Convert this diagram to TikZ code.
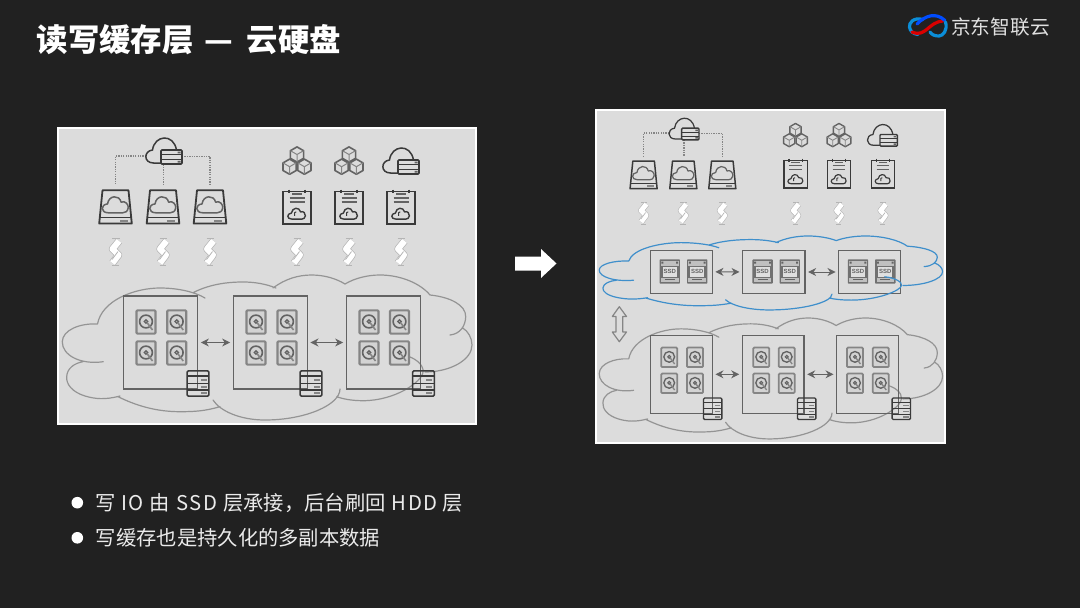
\documentclass[tikz,border=0pt]{standalone}
\usepackage{fontspec}
\usetikzlibrary{arrows.meta,calc}
\newfontfamily\cjk{Noto Sans CJK SC}
\newfontfamily\cjkwide[LetterSpace=8]{Noto Sans CJK SC}
\newfontfamily\ssdf{Liberation Sans}
\definecolor{bgc}{HTML}{212121}
\definecolor{panel}{HTML}{DCDCDC}
\definecolor{ink}{HTML}{3A3A3A}
\definecolor{mid}{HTML}{636363}
\definecolor{soft}{HTML}{858585}
\definecolor{cloudg}{HTML}{949494}
\definecolor{cloudb}{HTML}{3F8FCB}
\tikzset{
  panelbox/.style={draw=white,line width=2pt,fill=panel},
  hostbox/.style={draw=mid,line width=1.35pt,inner sep=0pt},
  link/.style={draw=mid,line width=1pt,{Stealth[length=8pt,width=8pt]}-{Stealth[length=8pt,width=8pt]},shorten <=2.5pt,shorten >=2.5pt},
  dots/.style={draw=soft,line width=1.3pt,dash pattern=on 1.3pt off 1.1pt},
  bigcloud/.style={line width=1.2pt,line cap=round}
}
\newcommand\cloudglyph[1]{\draw[#1,line join=round] (-6.5,7) .. controls (-13,7) and (-13,0) .. (-7,-0.5) .. controls (-6,-8) and (3,-8.5) .. (4.5,-2) .. controls (8,-3.5) and (11,0) .. (10.5,3) .. controls (10,6) and (8,7) .. (6,7) -- cycle;}
\newcommand\iconDisk[3]{\begin{scope}[shift={(#1,#2)},scale=#3]
  \draw[ink,line width=#3*1.8pt,line join=round] (-13,-16.7) -- (13,-16.7) -- (16.3,16.5) -- (-16.3,16.5) -- cycle;
  \draw[ink,line width=#3*1.3pt] (-15.8,10.5) -- (15.8,10.5);
  \fill[soft] (4,12.6) rectangle (12,14.6);
  \begin{scope}[shift={(0.3,-2.5)},scale=1.18]\cloudglyph{mid,line width=#3*1.5pt}\end{scope}
\end{scope}}
\newcommand\iconNote[3]{\begin{scope}[shift={(#1,#2)},scale=#3]
  \draw[ink,line width=#3*1.7pt] (-13.8,-15.5) rectangle (13.8,17);
  \draw[ink,line width=#3*1.5pt] (-8,-17.5) -- (-8,-14) (8,-17.5) -- (8,-14);
  \draw[mid,line width=#3*1.2pt] (-5,-13) -- (5,-13);
  \draw[mid,line width=#3*1.3pt] (-7.5,-9) -- (7.5,-9) (-7.5,-5) -- (7.5,-5);
  \begin{scope}[shift={(0,6.5)},scale=.8]\cloudglyph{ink,line width=#3*1.4pt}
  \draw[ink,line width=#3*1.1pt] (-3,3) -- (-3,-1) -- (-1,-2);\end{scope}
\end{scope}}
\newcommand\hexa[3]{\draw[mid,line width=#3*1.6pt,line join=round] (#1,#2-7.6) -- (#1+6.6,#2-3.8) -- (#1+6.6,#2+3.8) -- (#1,#2+7.6) -- (#1-6.6,#2+3.8) -- (#1-6.6,#2-3.8) -- cycle;
  \draw[soft,line width=#3*1pt] (#1-6.6,#2-3.8) -- (#1,#2) -- (#1+6.6,#2-3.8) (#1,#2) -- (#1,#2+7.6);}
\newcommand\iconCubes[3]{\begin{scope}[shift={(#1,#2)},scale=#3]
  \hexa{0}{-6}{#3}
  \hexa{-7.4}{6.2}{#3}
  \hexa{7.4}{6.2}{#3}
\end{scope}}
\newcommand\iconCloudSrv[3]{\begin{scope}[shift={(#1,#2)},scale=#3]
  \draw[ink,line width=#3*1.5pt,line cap=round] (-10.5,6) -- (-18,6) .. controls (-28,6) and (-28,-6) .. (-19,-7) .. controls (-17,-22) and (2,-24) .. (5,-7);
  \draw[ink,line width=#3*1.7pt,fill=panel,rounded corners=1pt] (-10.5,-7) rectangle (10.5,7);
  \draw[ink,line width=#3*1.3pt] (-10.5,-2.3) -- (10.5,-2.3) (-10.5,2.5) -- (10.5,2.5);
  \fill[mid] (6,-5.4) rectangle (9,-3.6) (6,3.8) rectangle (9,5.6);
\end{scope}}
\newcommand\iconBolt[3]{\begin{scope}[shift={(#1,#2)},scale=#3]
  \draw[cloudg!70,line width=#3*1pt] (-3.5,-13.5) -- (4,-13.5) (-3.5,13.5) -- (3,13.5);
  \draw[cloudg!70,line width=#3*7.4pt,line join=round] (3.5,-11) -- (-3,-3) -- (3,3) -- (-3,11);
  \draw[white,line width=#3*6pt,line join=round] (3.5,-11) -- (-3,-3) -- (3,3) -- (-3,11);
  \draw[cloudg!70,line width=#3*.8pt] (-3.5,7.5) -- (2.5,-0.5);
\end{scope}}
\newcommand\iconHdd[3]{\begin{scope}[shift={(#1,#2)},scale=#3]
  \draw[soft,line width=#3*2.1pt,fill=panel!90!gray,rounded corners=1pt] (-9.5,-11.6) rectangle (9.5,11.6);
  \draw[mid,line width=#3*1.6pt] (0,-0.5) circle (6.4);
  \draw[mid,line width=#3*1.2pt,fill=panel!60!gray] (0,-0.5) circle (1.8);
  \draw[soft,line width=#3*1.6pt] (1,0.5) -- (6.5,8);
\end{scope}}
\newcommand\iconSsd[2]{\begin{scope}[shift={(#1,#2)}]
  \fill[soft!85!black,rounded corners=.8pt] (-10.2,-12.2) rectangle (10.2,12.2);
  \fill[panel!70!gray] (-8.8,-10.8) rectangle (8.8,-6);
  \fill[panel!70!gray] (-8.8,6) rectangle (8.8,10.8);
  \fill[panel!90!white] (-7,-5) rectangle (7,5);
  \draw[mid,line width=.9pt] (-5,8.3) -- (5,8.3);
  \fill[mid] (-8.4,-10) rectangle (-6.4,-8) (6.4,-10) rectangle (8.4,-8);
  \node[inner sep=0pt,text=mid,font=\ssdf\bfseries\fontsize{6}{6}\selectfont] at (0,0) {SSD};
\end{scope}}
\newcommand\iconRack[3]{\begin{scope}[shift={(#1,#2)},scale=#3]
  \draw[ink,line width=#3*1.5pt,rounded corners=1.2pt] (-10.8,-12.7) rectangle (10.8,12.7);
  \draw[ink,line width=#3*1.4pt] (-10.8,-7.4) -- (10.8,-7.4) (-10.8,0) -- (10.8,0) (-10.8,6.6) -- (10.8,6.6);
  \foreach \yy in {-3.7,3.3,9.6} \fill[soft] (2.5,\yy-.9) rectangle (8.5,\yy+.9);
\end{scope}}
\newcommand\bigCloud[5]{\begin{scope}[shift={(#1,#2)},xscale=#3,yscale=#4]
  \draw[bigcloud,#5]
   (103.3,361.7) .. controls (80,365) and (62,355) .. (62.3,341.7) .. controls (62.5,330) and (80,323) .. (97.5,324)
   (97.5,324) .. controls (102,300) and (135,288) .. (160,288) .. controls (178,288) and (195,292) .. (205,298)
   (193,292.7) .. controls (210,284) and (228,282) .. (243,282) .. controls (255,282) and (266,284) .. (276,288)
   (273,288) .. controls (285,279) and (298,275) .. (311.7,275) .. controls (325,275) and (337,279) .. (345,284) .. controls (355,278) and (368,275) .. (380,275) .. controls (400,275) and (420,283) .. (430,295)
   (430,295) .. controls (450,297) and (466,305) .. (465.7,316.7) .. controls (465.5,326) and (460,334) .. (450,335)
   (462.7,328) .. controls (468,331) and (472,338) .. (472,345) .. controls (472,360) and (450,372) .. (425,372)
   (403,355) .. controls (415,357) and (424,365) .. (423,372) .. controls (422,382) and (395,400.7) .. (363,400.7) .. controls (352,400.7) and (343,399) .. (336.7,396.7)
   (340,389) .. controls (340,405) and (305,420) .. (265,420) .. controls (240,420) and (220,411) .. (213,400)
   (220,406.7) .. controls (205,411) and (195,411.7) .. (180,411.7) .. controls (155,411.7) and (135,405) .. (118,396.7)
   (120,396) .. controls (105,400) and (95,399) .. (85,396) .. controls (72,392) and (66,384) .. (66.7,376.7) .. controls (67,368) and (75,363) .. (83,361.7);
\end{scope}}
\begin{document}
\begin{tikzpicture}[x=1pt,y=-1pt]
\useasboundingbox (0,0) rectangle (1080,608);
\fill[bgc] (0,0) rectangle (1080,608);
% title
\node[anchor=west,inner sep=0pt,text=white,font=\cjk\bfseries\fontsize{31.4}{33}\selectfont] (title) at (36.5,39.5) {读写缓存层\hspace{11pt}—\hspace{13.5pt}云硬盘};
% logo
\begin{scope}[line width=3.2pt,line cap=round]
  \draw[cyan!75!blue] (923,19.5) .. controls (913,17) and (909,23) .. (909.5,27) .. controls (910,31) and (913,34) .. (918,34.5);
  \draw[red!85!black] (912,32) .. controls (926,38) and (928,22) .. (943,21);
  \draw[blue!70!cyan] (917,24) .. controls (925,15.5) and (936,12) .. (945,20.5);
  \draw[cyan!75!blue] (945.5,22) .. controls (948,30) and (943,36) .. (939,36) .. controls (935,36) and (932,35) .. (930,32);
\end{scope}
\node[anchor=west,inner sep=0pt,text=white!88!black,font=\cjk\fontsize{19.7}{21}\selectfont] (logo) at (951,27) {京东智联云};
% left panel
\draw[panelbox] (58,128) rectangle (476,424);
\coordinate (lsrvL) at (146,156); \coordinate (lsrvB) at (163.5,164.5); \coordinate (lsrvR) at (182,156.5);
\coordinate (ld1) at (115.5,184); \coordinate (ld2) at (163.5,184); \coordinate (ld3) at (210,184);
\draw[dots] (lsrvL) -| (ld1);
\draw[dots] (lsrvB) -- (ld2);
\draw[dots] (lsrvR) -| (ld3);
\iconCloudSrv{171.5}{157}{1}
\foreach \xx in {115.5,163,210} {\iconDisk{\xx}{207}{1}\iconBolt{\xx}{252}{1}}
\foreach \xx in {297,349} {\iconCubes{\xx}{160.5}{1}}
\iconCloudSrv{408.5}{167}{1}
\foreach \xx in {297,349,401} {\iconNote{\xx}{207}{1}\iconBolt{\xx}{252}{1}}
\bigCloud{0}{0}{1}{1}{cloudg}
\node[hostbox,minimum width=74.4pt,minimum height=93pt] (lb1) at (160.5,342.5) {};
\node[hostbox,minimum width=74pt,minimum height=93pt] (lb2) at (270.3,342.5) {};
\node[hostbox,minimum width=74pt,minimum height=93pt] (lb3) at (383.3,342.5) {};
\draw[link] (lb1) -- (lb2);
\draw[link] (lb2) -- (lb3);
\foreach \xx in {146,176.7,256,287,369,399.5} {\iconHdd{\xx}{322}{1}\iconHdd{\xx}{353}{1}}
\iconRack{198}{383.5}{1}\iconRack{311}{383.5}{1}\iconRack{423.5}{383.5}{1}
% arrow between panels
\fill[white] (515,256.5) -- (541,256.5) -- (541,249) -- (556.5,263.5) -- (541,278) -- (541,270.5) -- (515,270.5) -- cycle;
% right panel
\draw[panelbox] (596,110) rectangle (945,443);
\coordinate (rsrvL) at (669,133); \coordinate (rsrvB) at (684,140); \coordinate (rsrvR) at (699,133.3);
\coordinate (rd1) at (643.5,156.7); \coordinate (rd2) at (684,156.7); \coordinate (rd3) at (722.3,156.7);
\draw[dots,line width=1.1pt] (rsrvL) -| (rd1);
\draw[dots,line width=1.1pt] (rsrvB) -- (rd2);
\draw[dots,line width=1.1pt] (rsrvR) -| (rd3);
\iconCloudSrv{690.3}{134}{.83}
\foreach \xx in {643.6,683.3,722.3} {\iconDisk{\xx}{175}{.83}\iconBolt{\xx}{213}{.81}}
\foreach \xx in {795.5,839} {\iconCubes{\xx}{135}{.85}}
\iconCloudSrv{888.7}{140.3}{.83}
\foreach \xx in {795.7,839,883} {\iconNote{\xx}{173.5}{.85}\iconBolt{\xx}{213}{.81}}
% SSD tier
\node[hostbox,minimum width=62pt,minimum height=43pt] (sb1) at (681.3,271.8) {};
\node[hostbox,minimum width=62.3pt,minimum height=43pt] (sb2) at (773.8,272) {};
\node[hostbox,minimum width=62pt,minimum height=43pt] (sb3) at (869.7,272) {};
\draw[link] (sb1) -- (sb2);
\draw[link] (sb2) -- (sb3);
\foreach \xx in {669.7,697.2,762.6,789.7,858,885.3} {\iconSsd{\xx}{271.5}}
\bigCloud{547.04}{95.75}{.838}{.51}{cloudb}
% double arrow
\draw[soft,line width=1.2pt,line join=round] (619.3,306.7) -- (626.5,316.5) -- (622.8,316.5) -- (622.8,332) -- (626.5,332) -- (619.3,341.7) -- (612.3,332) -- (616,332) -- (616,316.5) -- (612.3,316.5) -- cycle;
% HDD tier
\bigCloud{547.04}{88.65}{.838}{.834}{cloudg}
\node[hostbox,minimum width=62pt,minimum height=78pt] (hb1) at (681.3,374.3) {};
\node[hostbox,minimum width=61.7pt,minimum height=78pt] (hb2) at (773.2,374.3) {};
\node[hostbox,minimum width=61.6pt,minimum height=78pt] (hb3) at (867.5,374.3) {};
\draw[link] (hb1) -- (hb2);
\draw[link] (hb2) -- (hb3);
\foreach \xx in {669.2,695,761.2,786.7,855,880.8} {\iconHdd{\xx}{357.3}{.84}\iconHdd{\xx}{383.3}{.84}}
\iconRack{712.7}{408.8}{.85}\iconRack{806.7}{408.8}{.85}\iconRack{901.3}{408.8}{.85}
% bullets
\fill[white] (77.3,502.7) circle (5.8);
\fill[white] (77.3,537.8) circle (5.8);
\node[anchor=west,inner sep=0pt,text=white!92!black,font=\cjk\fontsize{20.3}{22}\selectfont] (t1) at (95.7,503) {写\hspace{5pt}{\cjkwide IO}\hspace{6pt}由\hspace{6pt}{\cjkwide SSD}\hspace{6pt}层承接，后台刷回\hspace{6pt}{\cjkwide HDD}\hspace{5pt}层};
\node[anchor=west,inner sep=0pt,text=white!92!black,font=\cjk\fontsize{20.3}{22}\selectfont] (t2) at (95.7,538) {写缓存也是持久化的多副本数据};
\end{tikzpicture}
\end{document}
